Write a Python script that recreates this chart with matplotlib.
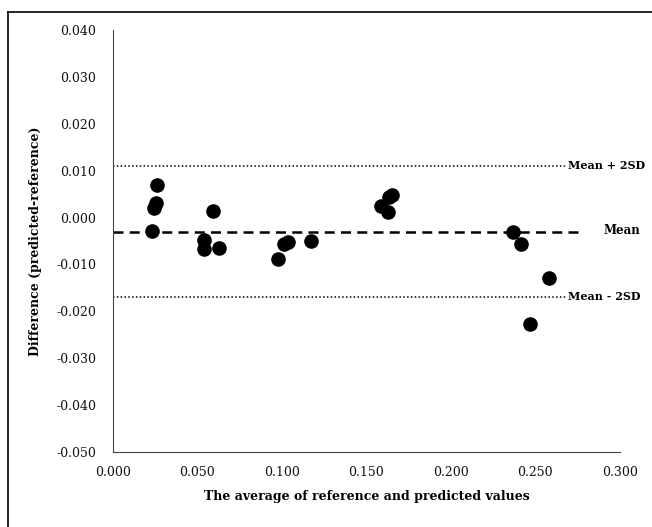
import matplotlib.pyplot as plt
from matplotlib.lines import Line2D

# --- data ---
avg_vals = [0.0232, 0.0245, 0.0254, 0.0261, 0.0540, 0.0540, 0.0589, 0.0625,
            0.0978, 0.1014, 0.1034, 0.1171, 0.1589, 0.1629, 0.1632, 0.1652,
            0.2367, 0.2413, 0.2580, 0.2465]
diff_vals = [-0.0028, 0.0021, 0.0032, 0.0069, -0.0047, -0.0067, 0.0013, -0.0065,
             -0.0089, -0.0057, -0.0053, -0.0051, 0.0024, 0.0011, 0.0043, 0.0048,
             -0.0030, -0.0057, -0.0129, -0.0227]
mean_diff = -0.0030
upper_loa = 0.0111
lower_loa = -0.0169
line_end = 0.2680
mean_end = 0.2790
yticks = [-0.05, -0.04, -0.03, -0.02, -0.01, 0.0, 0.01, 0.02, 0.03, 0.04]
xticks = [0.0, 0.05, 0.10, 0.15, 0.20, 0.25, 0.30]

plt.rcParams["font.family"] = "DejaVu Serif"

fig = plt.figure(figsize=(6.52, 5.27), dpi=100)
ax = fig.add_axes([0.1733, 0.1423, 0.7775, 0.8008])

# frame lines around the figure (top and left dark)
fig.lines.append(Line2D([0.0123, 1.0], [0.977, 0.977], transform=fig.transFigure,
                        color="black", lw=1.2))
fig.lines.append(Line2D([0.0123, 0.0123], [0.0, 0.977], transform=fig.transFigure,
                        color="black", lw=1.2))

ax.scatter(avg_vals, diff_vals, s=90, color="black", zorder=3)

ax.plot([0, line_end], [upper_loa, upper_loa], ls=(0, (1, 1.5)), color="black", lw=1.1)
ax.plot([0, line_end], [lower_loa, lower_loa], ls=(0, (1, 1.5)), color="black", lw=1.1)
ax.plot([0, mean_end], [mean_diff, mean_diff], ls=(0, (4, 2.5)), color="black", lw=1.8)

ax.text(line_end + 0.001, upper_loa, "Mean + 2SD", va="center", ha="left",
        fontsize=8, fontweight="bold", clip_on=False)
ax.text(mean_end + 0.011, mean_diff + 0.0003, "Mean", va="center", ha="left",
        fontsize=8.5, fontweight="bold", clip_on=False)
ax.text(line_end + 0.001, lower_loa, "Mean - 2SD", va="center", ha="left",
        fontsize=8, fontweight="bold", clip_on=False)

ax.set_xlim(0, 0.30)
ax.set_ylim(-0.05, 0.04)
ax.set_xticks(xticks)
ax.set_yticks(yticks)
ax.set_xticklabels([f"{v:.3f}" for v in xticks])
ax.set_yticklabels([f"{v:.3f}" for v in yticks])
ax.tick_params(length=0, labelsize=9, pad=10, labelcolor="#111111")
ax.tick_params(axis="y", pad=12)

ax.spines["top"].set_visible(False)
ax.spines["right"].set_visible(False)
ax.spines["left"].set_color("#444444")
ax.spines["bottom"].set_color("#444444")

ax.set_xlabel("The average of reference and predicted values", fontsize=9,
              fontweight="bold", labelpad=8)
ax.set_ylabel("Difference (predicted-reference)", fontsize=9,
              fontweight="bold", labelpad=10)

fig.savefig("out.png", dpi=100)
